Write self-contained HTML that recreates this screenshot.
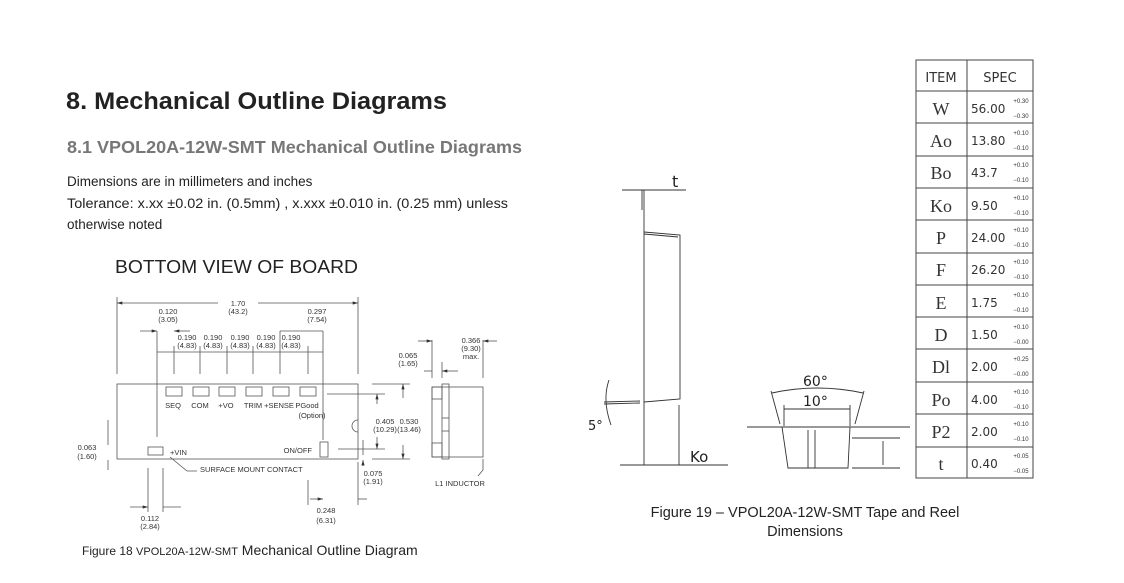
<!DOCTYPE html>
<html><head><meta charset="utf-8"><style>
html,body{margin:0;padding:0;background:#fff;}
svg{display:block;font-family:"Liberation Sans",Arial,sans-serif;}
</style></head><body>
<svg width="1124" height="583" viewBox="0 0 1124 583" xmlns="http://www.w3.org/2000/svg">
<defs>
<marker id="a" viewBox="0 0 10 6" refX="10" refY="3" markerWidth="7" markerHeight="4" orient="auto-start-reverse"><path d="M0,0L10,3L0,6z" fill="#333"/></marker>
</defs>
<text x="66" y="109" font-size="24" font-weight="bold" fill="#222" textLength="381" lengthAdjust="spacingAndGlyphs">8. Mechanical Outline Diagrams</text>
<text x="67" y="153" font-size="17.5" font-weight="bold" fill="#777" textLength="455" lengthAdjust="spacingAndGlyphs">8.1 VPOL20A-12W-SMT Mechanical Outline Diagrams</text>
<text x="67" y="186" font-size="13.5" fill="#222">Dimensions are in millimeters and inches</text>
<text x="67" y="208" font-size="13.5" fill="#222" textLength="441" lengthAdjust="spacingAndGlyphs">Tolerance: x.xx ±0.02 in. (0.5mm) , x.xxx ±0.010 in. (0.25 mm) unless</text>
<text x="67" y="229" font-size="13.5" fill="#222">otherwise noted</text>
<text x="115" y="273" font-size="18" fill="#222" textLength="243" lengthAdjust="spacingAndGlyphs">BOTTOM VIEW OF BOARD</text>

<g stroke="#555" stroke-width="0.8" fill="none">
<rect x="117" y="384" width="241" height="75"/>
<line x1="117" y1="297" x2="117" y2="374"/><line x1="358" y1="297" x2="358" y2="374"/>
<line x1="117" y1="303" x2="218" y2="303" marker-start="url(#a)"/><line x1="258" y1="303" x2="358" y2="303" marker-end="url(#a)"/>
<line x1="157" y1="331" x2="157" y2="437"/><line x1="323" y1="331" x2="323" y2="440"/>
<line x1="174" y1="346" x2="174" y2="374"/><line x1="200" y1="346" x2="200" y2="374"/><line x1="227" y1="346" x2="227" y2="374"/><line x1="253" y1="346" x2="253" y2="374"/><line x1="280" y1="331" x2="280" y2="374"/><line x1="308" y1="346" x2="308" y2="374"/>
<line x1="140" y1="331" x2="157" y2="331" marker-end="url(#a)"/><line x1="190" y1="331" x2="174" y2="331" marker-end="url(#a)"/>
<line x1="157" y1="352" x2="323" y2="352"/>
<line x1="280" y1="331" x2="323" y2="331"/>
<rect x="166" y="387" width="16" height="9"/><rect x="193" y="387" width="16" height="9"/><rect x="219" y="387" width="16" height="9"/><rect x="246" y="387" width="16" height="9"/><rect x="273" y="387" width="16" height="9"/><rect x="300" y="387" width="16" height="9"/>
<rect x="148" y="447" width="15" height="8"/>
<rect x="320" y="442" width="8" height="15"/>
<path d="M358,420 A6,6 0 0 0 358,432"/>
<polyline points="170,457 187,471 197,471"/>
<line x1="108" y1="420" x2="108" y2="445"/><line x1="108" y1="470" x2="108" y2="460"/>
<line x1="148" y1="468" x2="148" y2="512"/><line x1="163" y1="468" x2="163" y2="512"/>
<line x1="130" y1="507" x2="148" y2="507" marker-end="url(#a)"/><line x1="181" y1="507" x2="163" y2="507"/>
<line x1="308" y1="480" x2="308" y2="505"/><line x1="358" y1="462" x2="358" y2="505"/>
<line x1="310" y1="499" x2="323" y2="499" marker-end="url(#a)"/><line x1="367" y1="499" x2="358" y2="499"/>
<line x1="327" y1="394" x2="385" y2="394"/><line x1="338" y1="449" x2="385" y2="449"/>
<line x1="372" y1="384" x2="410" y2="384"/><line x1="372" y1="459" x2="410" y2="459"/>
<line x1="377" y1="404" x2="377" y2="394" marker-end="url(#a)"/><line x1="377" y1="437" x2="377" y2="449" marker-end="url(#a)"/>
<line x1="403" y1="398" x2="403" y2="384" marker-end="url(#a)"/><line x1="403" y1="445" x2="403" y2="459" marker-end="url(#a)"/>
<line x1="363" y1="440" x2="363" y2="455"/><line x1="363" y1="466" x2="363" y2="460" marker-end="url(#a)"/>
<rect x="432" y="387" width="51" height="70"/>
<rect x="442" y="384" width="7" height="75"/>
<rect x="432" y="387" width="10" height="12"/><rect x="432" y="443" width="10" height="14"/>
<line x1="442" y1="418" x2="449" y2="418"/><line x1="442" y1="431" x2="449" y2="431"/>
<line x1="432" y1="340" x2="432" y2="378"/><line x1="483" y1="340" x2="483" y2="378"/><line x1="442" y1="362" x2="442" y2="378"/>
<line x1="418" y1="341" x2="432" y2="341" marker-end="url(#a)"/><line x1="497" y1="341" x2="483" y2="341" marker-end="url(#a)"/>
<line x1="424" y1="371" x2="432" y2="371"/><line x1="458" y1="371" x2="442" y2="371" marker-end="url(#a)"/>
<polyline points="483,459 483,470 478,476"/>
</g>
<g font-size="7.5" fill="#333" text-anchor="middle">
<text x="238" y="306">1.70</text><text x="238" y="314">(43.2)</text>
<text x="168" y="314">0.120</text><text x="168" y="322">(3.05)</text>
<text x="317" y="314">0.297</text><text x="317" y="322">(7.54)</text>
<text x="187" y="340">0.190</text><text x="187" y="348">(4.83)</text>
<text x="213" y="340">0.190</text><text x="213" y="348">(4.83)</text>
<text x="240" y="340">0.190</text><text x="240" y="348">(4.83)</text>
<text x="266" y="340">0.190</text><text x="266" y="348">(4.83)</text>
<text x="291" y="340">0.190</text><text x="291" y="348">(4.83)</text>
<text x="173" y="408">SEQ</text><text x="200" y="408">COM</text><text x="226" y="408">+VO</text><text x="253" y="408">TRIM</text><text x="279" y="408">+SENSE</text><text x="307" y="408">PGood</text><text x="312" y="418">(Option)</text>
<text x="87" y="450">0.063</text><text x="87" y="459">(1.60)</text>
<text x="150" y="521">0.112</text><text x="150" y="529">(2.84)</text>
<text x="326" y="513">0.248</text><text x="326" y="523">(6.31)</text>
<text x="373" y="476">0.075</text><text x="373" y="484">(1.91)</text>
<text x="385" y="424">0.405</text><text x="385" y="432">(10.29)</text>
<text x="409" y="424">0.530</text><text x="409" y="432">(13.46)</text>
<text x="471" y="343">0.366</text><text x="471" y="351">(9.30)</text><text x="471" y="359">max.</text>
<text x="408" y="358">0.065</text><text x="408" y="366">(1.65)</text>
<text x="460" y="486">L1 INDUCTOR</text>
</g>
<g font-size="7.5" fill="#333">
<text x="170" y="455">+VIN</text>
<text x="312" y="453" text-anchor="end">ON/OFF</text>
<text x="200" y="472">SURFACE MOUNT CONTACT</text>
</g>
<text x="82" y="555" font-size="14" fill="#222"><tspan font-size="12">Figure 18 </tspan><tspan font-size="11">VPOL20A-12W-SMT</tspan> Mechanical Outline Diagram</text>

<g stroke="#333" stroke-width="0.9" fill="none">
<line x1="644" y1="190" x2="644" y2="465"/><line x1="642" y1="190" x2="642" y2="210"/>
<line x1="622" y1="190" x2="686" y2="190"/>
<polyline points="644,232 680,235 680,399 644,402"/>
<line x1="644" y1="234" x2="678" y2="237"/>
<line x1="679" y1="405" x2="679" y2="465"/>
<line x1="620" y1="465" x2="728" y2="465"/>
<line x1="604" y1="402" x2="640" y2="401"/><line x1="604" y1="404" x2="640" y2="403"/>
<path d="M609,380 Q602,400 611,425"/>
<line x1="747" y1="427" x2="910" y2="427"/>
<polyline points="782,427 788,468 848,468 850,427"/>
<line x1="808" y1="430" x2="808" y2="468"/><line x1="815" y1="430" x2="815" y2="468"/>
<polyline points="852,438 900,438"/><line x1="852" y1="468" x2="900" y2="468"/>
<line x1="883" y1="441" x2="883" y2="465"/>
<line x1="771" y1="391" x2="780" y2="424"/><line x1="864" y1="391" x2="855" y2="424"/>
<path d="M772,393 Q817,383 863,393"/>
<line x1="784" y1="409" x2="850" y2="409"/>
<line x1="784" y1="405" x2="784" y2="426"/><line x1="850" y1="405" x2="850" y2="426"/>
</g>
<g font-family="DejaVu Sans" fill="#222">
<text x="672" y="187" font-size="16">t</text>
<text x="690" y="462" font-size="15">Ko</text>
<text x="588" y="430" font-size="13">5°</text>
<text x="803" y="386" font-size="14">60°</text>
<text x="803" y="406" font-size="14">10°</text>
</g>
<text x="805" y="517" font-size="14.5" fill="#222" text-anchor="middle">Figure 19 – VPOL20A-12W-SMT Tape and Reel</text>
<text x="805" y="536" font-size="14.5" fill="#222" text-anchor="middle">Dimensions</text>

<g stroke="#444" stroke-width="1" fill="none">
<rect x="916" y="60" width="117" height="418"/>
<line x1="967" y1="60" x2="967" y2="478"/>
<line x1="916" y1="91" x2="1033" y2="91"/><line x1="916" y1="123" x2="1033" y2="123"/><line x1="916" y1="156" x2="1033" y2="156"/><line x1="916" y1="188" x2="1033" y2="188"/><line x1="916" y1="220" x2="1033" y2="220"/><line x1="916" y1="253" x2="1033" y2="253"/><line x1="916" y1="285" x2="1033" y2="285"/><line x1="916" y1="317" x2="1033" y2="317"/><line x1="916" y1="349" x2="1033" y2="349"/><line x1="916" y1="382" x2="1033" y2="382"/><line x1="916" y1="414" x2="1033" y2="414"/><line x1="916" y1="447" x2="1033" y2="447"/>
</g>
<g fill="#333" font-size="14">
<text x="941" y="82" text-anchor="middle" font-family="DejaVu Sans" font-size="13">ITEM</text>
<text x="1000" y="82" text-anchor="middle" font-family="DejaVu Sans" font-size="13">SPEC</text>
<g font-family="Liberation Serif" font-size="18" text-anchor="middle">
<text x="941" y="115">W</text><text x="941" y="147">Ao</text><text x="941" y="179">Bo</text><text x="941" y="212">Ko</text><text x="941" y="244">P</text><text x="941" y="276">F</text><text x="941" y="309">E</text><text x="941" y="341">D</text><text x="941" y="373">Dl</text><text x="941" y="406">Po</text><text x="941" y="438">P2</text><text x="941" y="470">t</text>
</g>
<g font-family="DejaVu Sans" font-size="12">
<text x="971" y="113">56.00</text><text x="971" y="145">13.80</text><text x="971" y="177">43.7</text><text x="971" y="210">9.50</text><text x="971" y="242">24.00</text><text x="971" y="274">26.20</text><text x="971" y="307">1.75</text><text x="971" y="339">1.50</text><text x="971" y="371">2.00</text><text x="971" y="404">4.00</text><text x="971" y="436">2.00</text><text x="971" y="468">0.40</text>
</g>
<g font-size="6" text-anchor="middle">
<text x="1021" y="103">+0.30</text><text x="1021" y="118">−0.30</text>
<text x="1021" y="135">+0.10</text><text x="1021" y="150">−0.10</text>
<text x="1021" y="167">+0.10</text><text x="1021" y="182">−0.10</text>
<text x="1021" y="200">+0.10</text><text x="1021" y="215">−0.10</text>
<text x="1021" y="232">+0.10</text><text x="1021" y="247">−0.10</text>
<text x="1021" y="264">+0.10</text><text x="1021" y="279">−0.10</text>
<text x="1021" y="297">+0.10</text><text x="1021" y="312">−0.10</text>
<text x="1021" y="329">+0.10</text><text x="1021" y="344">−0.00</text>
<text x="1021" y="361">+0.25</text><text x="1021" y="376">−0.00</text>
<text x="1021" y="394">+0.10</text><text x="1021" y="409">−0.10</text>
<text x="1021" y="426">+0.10</text><text x="1021" y="441">−0.10</text>
<text x="1021" y="458">+0.05</text><text x="1021" y="473">−0.05</text>
</g>
</g>
</svg>
</body></html>
